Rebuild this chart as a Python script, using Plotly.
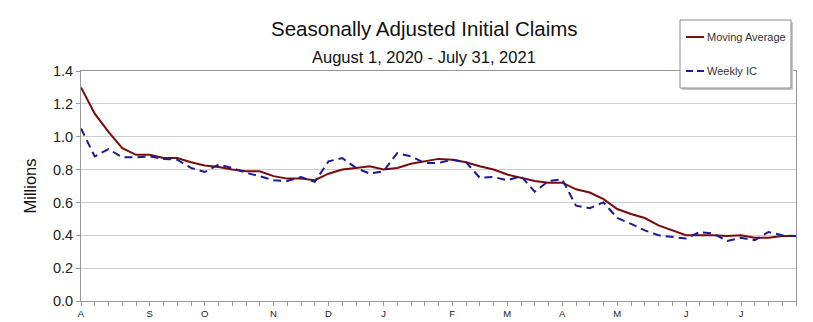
import plotly.graph_objects as go
import pandas as pd

weeks = pd.date_range("2020-08-01", "2021-07-31", freq="7D")

moving_average = [1.30, 1.14, 1.03, 0.93, 0.89, 0.89, 0.87, 0.87, 0.845, 0.825,
                  0.815, 0.80, 0.79, 0.79, 0.76, 0.745, 0.745, 0.735, 0.775, 0.80,
                  0.81, 0.82, 0.80, 0.81, 0.835, 0.85, 0.865, 0.86, 0.845, 0.82,
                  0.80, 0.77, 0.75, 0.73, 0.72, 0.72, 0.68, 0.66, 0.62, 0.56,
                  0.53, 0.505, 0.46, 0.43, 0.40, 0.40, 0.40, 0.395, 0.40, 0.385,
                  0.385, 0.395, 0.395]

weekly_ic = [1.05, 0.88, 0.925, 0.875, 0.875, 0.88, 0.865, 0.86, 0.81, 0.785,
             0.83, 0.81, 0.78, 0.76, 0.735, 0.73, 0.755, 0.725, 0.85, 0.87,
             0.81, 0.775, 0.79, 0.90, 0.88, 0.84, 0.84, 0.86, 0.845, 0.75,
             0.755, 0.735, 0.76, 0.665, 0.73, 0.74, 0.58, 0.565, 0.60, 0.505,
             0.47, 0.43, 0.40, 0.39, 0.38, 0.42, 0.41, 0.365, 0.385, 0.37,
             0.42, 0.40, 0.395]

tick_dates = ["2020-08-01", "2020-09-05", "2020-10-03", "2020-11-07", "2020-12-05",
              "2021-01-02", "2021-02-06", "2021-03-06", "2021-04-03", "2021-05-01",
              "2021-06-05", "2021-07-03"]
tick_labels = ["A", "S", "O", "N", "D", "J", "F", "M", "A", "M", "J", "J"]

series_names = ["Moving Average", "Weekly IC"]
ma_color = "#7a0c0c"
ic_color = "#1a1a9a"

font_family = "Arial, Liberation Sans, sans-serif"

# plot-area geometry (pixels) used to place paper-referenced decorations
L, R, T, B = 81, 796, 71, 301
def px(x):
    return (x - L) / (R - L)
def py(y):
    return (B - y) / (B - T)

fig = go.Figure()
fig.add_trace(go.Scatter(x=weeks, y=moving_average, mode="lines", name=series_names[0],
                         line=dict(color=ma_color, width=2), showlegend=False))
fig.add_trace(go.Scatter(x=weeks, y=weekly_ic, mode="lines", name=series_names[1],
                         line=dict(color=ic_color, width=2, dash="8px,5px"),
                         showlegend=False))

shapes = [
    # legend shadow + box
    dict(type="rect", xref="paper", yref="paper", x0=px(682), x1=px(793),
         y0=py(22), y1=py(90), fillcolor="#c8c8c8", line=dict(width=0), layer="above"),
    dict(type="rect", xref="paper", yref="paper", x0=px(680), x1=px(791),
         y0=py(20), y1=py(88), fillcolor="white", line=dict(color="#8a8a8a", width=1),
         layer="above"),
    # legend symbols
    dict(type="line", xref="paper", yref="paper", x0=px(686), x1=px(704),
         y0=py(37), y1=py(37), line=dict(color=ma_color, width=2), layer="above"),
    dict(type="line", xref="paper", yref="paper", x0=px(686), x1=px(704),
         y0=py(71), y1=py(71), line=dict(color=ic_color, width=2, dash="7px,4px"),
         layer="above"),
]

annotations = [
    dict(text="Seasonally Adjusted Initial Claims", x=px(424), y=py(29), xref="paper",
         yref="paper", showarrow=False, xanchor="center", yanchor="middle",
         font=dict(size=20.5, color="#111")),
    dict(text="August 1, 2020 - July 31, 2021", x=px(424), y=py(57), xref="paper",
         yref="paper", showarrow=False, xanchor="center", yanchor="middle",
         font=dict(size=16.5, color="#111")),
    dict(text=series_names[0], x=px(705), y=py(37), xref="paper", yref="paper",
         showarrow=False, xanchor="left", yanchor="middle",
         font=dict(size=11, color="#333")),
    dict(text=series_names[1], x=px(705), y=py(71), xref="paper", yref="paper",
         showarrow=False, xanchor="left", yanchor="middle",
         font=dict(size=11, color="#333")),
]

fig.update_layout(
    width=813, height=322,
    margin=dict(l=L, r=813 - R, t=T, b=322 - B),
    paper_bgcolor="white", plot_bgcolor="white",
    font=dict(family=font_family, color="#222"),
    showlegend=False,
    shapes=shapes,
    annotations=annotations,
)

fig.update_xaxes(
    range=[weeks[0], weeks[-1]], automargin=False,
    tickmode="array", tickvals=tick_dates, ticktext=tick_labels,
    tickfont=dict(size=9.5, color="#222"),
    ticks="outside", ticklen=4, tickcolor="#999",
    minor=dict(dtick=7 * 86400000, tick0="2020-08-01", ticks="outside",
               ticklen=4, tickcolor="#999", showgrid=False),
    showgrid=False, showline=True, linecolor="#999", linewidth=1, mirror=True,
    zeroline=False,
)
fig.update_yaxes(
    range=[0, 1.4], dtick=0.2, tickformat=".1f", automargin=False,
    tickfont=dict(size=14.5, color="#222"),
    ticks="outside", ticklen=4, tickcolor="#999",
    showgrid=True, gridcolor="#cfcfcf", gridwidth=1,
    showline=True, linecolor="#999", linewidth=1, mirror=True,
    zeroline=False,
    title=dict(text="Millions", font=dict(size=16.5, color="#111"), standoff=12),
)

fig.write_html("out.html")
